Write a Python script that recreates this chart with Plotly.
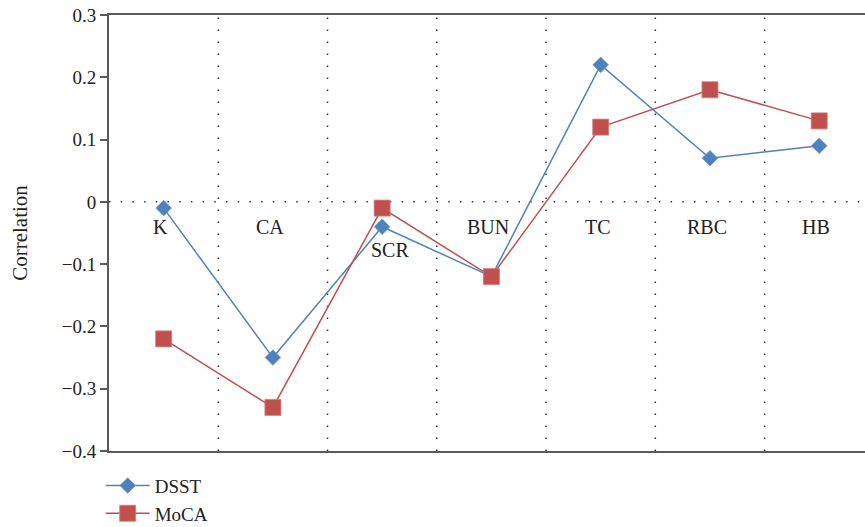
import plotly.graph_objects as go

categories = ["K", "CA", "SCR", "BUN", "TC", "RBC", "HB"]
dsst = [-0.01, -0.25, -0.04, -0.12, 0.22, 0.07, 0.09]
moca = [-0.22, -0.33, -0.01, -0.12, 0.12, 0.18, 0.13]
y_ticks = [0.3, 0.2, 0.1, 0, -0.1, -0.2, -0.3, -0.4]
y_tick_text = ["0.3", "0.2", "0.1", "0", "\u22120.1", "\u22120.2", "\u22120.3", "\u22120.4"]

BLUE = "#4F81BD"
RED = "#C0504D"
AXIS = "#5a5a5a"
FONT = "Liberation Serif"

x_idx = list(range(len(categories)))

fig = go.Figure()
fig.add_trace(go.Scatter(
    x=x_idx, y=dsst, name="DSST", mode="lines+markers",
    line=dict(color=BLUE, width=1.5),
    marker=dict(symbol="diamond", size=12, color=BLUE,
                line=dict(color="#6f97cc", width=0.8)),
))
fig.add_trace(go.Scatter(
    x=x_idx, y=moca, name="MoCA", mode="lines+markers",
    line=dict(color=RED, width=1.5),
    marker=dict(symbol="square", size=16, color=RED,
                line=dict(color="#d47b78", width=0.8)),
))

# dotted separators between categories and a dotted zero line
shapes = []
for i in range(len(categories) - 1):
    shapes.append(dict(type="line", xref="x", yref="paper",
                       x0=i + 0.5, x1=i + 0.5, y0=0, y1=1,
                       line=dict(color="#333333", width=1.5, dash="1.5px,10.5px"),
                       layer="below"))
shapes.append(dict(type="line", xref="paper", yref="y",
                   x0=0, x1=1, y0=0, y1=0,
                   line=dict(color="#333333", width=1.5, dash="1.5px,10.2px"),
                   layer="below"))

# category labels sit just under the zero line
label_shift = {"SCR": (8, -48)}
annotations = []
for i, c in enumerate(categories):
    dx, dy = label_shift.get(c, (-3, -25))
    annotations.append(dict(x=i, y=0, xref="x", yref="y", text=c,
                            showarrow=False, xshift=dx, yshift=dy,
                            xanchor="center", yanchor="middle",
                            font=dict(family=FONT, size=20, color="#222222")))

fig.update_layout(
    width=865, height=527,
    margin=dict(l=109, r=0, t=15, b=76, autoexpand=False),
    paper_bgcolor="white", plot_bgcolor="white",
    font=dict(family=FONT, color="#222222"),
    shapes=shapes, annotations=annotations,
    showlegend=True,
    legend=dict(x=-0.011, y=-0.036, xanchor="left", yanchor="top",
                font=dict(family=FONT, size=19, color="#222222"),
                bgcolor="rgba(0,0,0,0)", tracegroupgap=0, itemwidth=44),
    xaxis=dict(range=[-0.5, 6.419], showgrid=False, zeroline=False,
               showticklabels=False, ticks="", showline=True, mirror=True,
               linecolor=AXIS, linewidth=2),
    yaxis=dict(range=[-0.4, 0.3], tickmode="array", tickvals=y_ticks,
               ticktext=y_tick_text,
               showgrid=False, zeroline=False, ticks="outside", ticklen=7,
               tickwidth=1.5, tickcolor=AXIS, showline=True, linecolor=AXIS,
               linewidth=2, tickfont=dict(family=FONT, size=19, color="#222222"),
               title=dict(text="Correlation", standoff=28,
                          font=dict(family=FONT, size=21, color="#222222"))),
)

fig.write_html("out.html")
